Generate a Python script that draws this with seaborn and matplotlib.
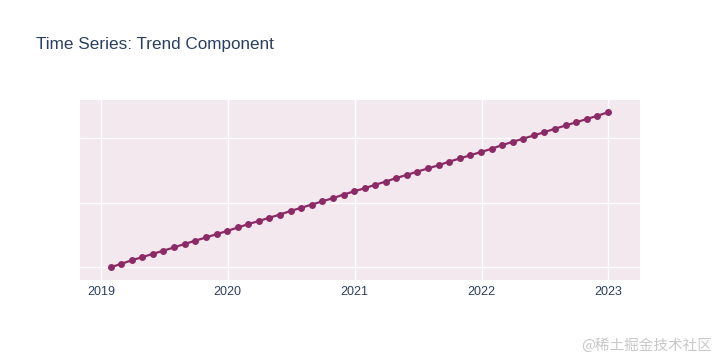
import pandas as pd
import seaborn as sns
import matplotlib.pyplot as plt
import matplotlib.dates as mdates

# monthly trend values (month ends 2019-01 .. 2022-12)
dates = pd.date_range('2019-01-31', '2022-12-31', freq='ME')
trend = [100.0, 101.0, 102.1, 103.1, 104.1, 105.1, 106.1, 107.2, 108.2, 109.2,
         110.2, 111.2, 112.3, 113.3, 114.3, 115.3, 116.3, 117.4, 118.4, 119.4,
         120.4, 121.4, 122.5, 123.5, 124.5, 125.5, 126.5, 127.6, 128.6, 129.6,
         130.6, 131.6, 132.7, 133.7, 134.7, 135.7, 136.7, 137.8, 138.8, 139.8,
         140.8, 141.8, 142.9, 143.9, 144.9, 145.9, 146.9, 148.0]
year_ticks = ['2019', '2020', '2021', '2022', '2023']

df = pd.DataFrame({'date': dates, 'trend': trend})

sns.set_theme(style='darkgrid', rc={
    'axes.facecolor': '#f2e8ee',
    'grid.color': 'white',
    'grid.linewidth': 1.0,
    'figure.facecolor': 'white',
})
plt.rcParams['font.family'] = ['Liberation Sans', 'DejaVu Sans']

fig = plt.figure(figsize=(7.2, 3.6), dpi=100)
ax = fig.add_axes([80 / 720, 1 - 280 / 360, 560 / 720, 180 / 360])

sns.lineplot(data=df, x='date', y='trend', ax=ax, color='#8c2a66',
             linewidth=1.6, marker='o', markersize=5, markeredgewidth=0)

ax.set_xlim(pd.Timestamp('2018-11-02'), pd.Timestamp('2023-04-02'))
ax.set_ylim(96, 151.8)
ax.set_xticks([pd.Timestamp(y + '-01-01') for y in year_ticks])
ax.xaxis.set_major_formatter(mdates.DateFormatter('%Y'))
ax.set_yticks([100, 120, 140])
ax.set_yticklabels([])
ax.tick_params(axis='x', colors='#2a3f5f', labelsize=9, length=0, pad=4)
ax.tick_params(axis='y', length=0)
ax.set_xlabel('')
ax.set_ylabel('')
for s in ax.spines.values():
    s.set_visible(False)

fig.text(36 / 720, 1 - 45 / 360, 'Time Series: Trend Component', fontsize=12.3,
         color='#2a3f5f', va='center', ha='left')
fig.text(712 / 720, 1 - 345 / 360, '@稀土掘金技术社区', fontsize=10.5,
         color='#c8c8c8', va='center', ha='right',
         family=['Noto Sans CJK SC', 'DejaVu Sans'])

fig.savefig('out.png', dpi=100)
